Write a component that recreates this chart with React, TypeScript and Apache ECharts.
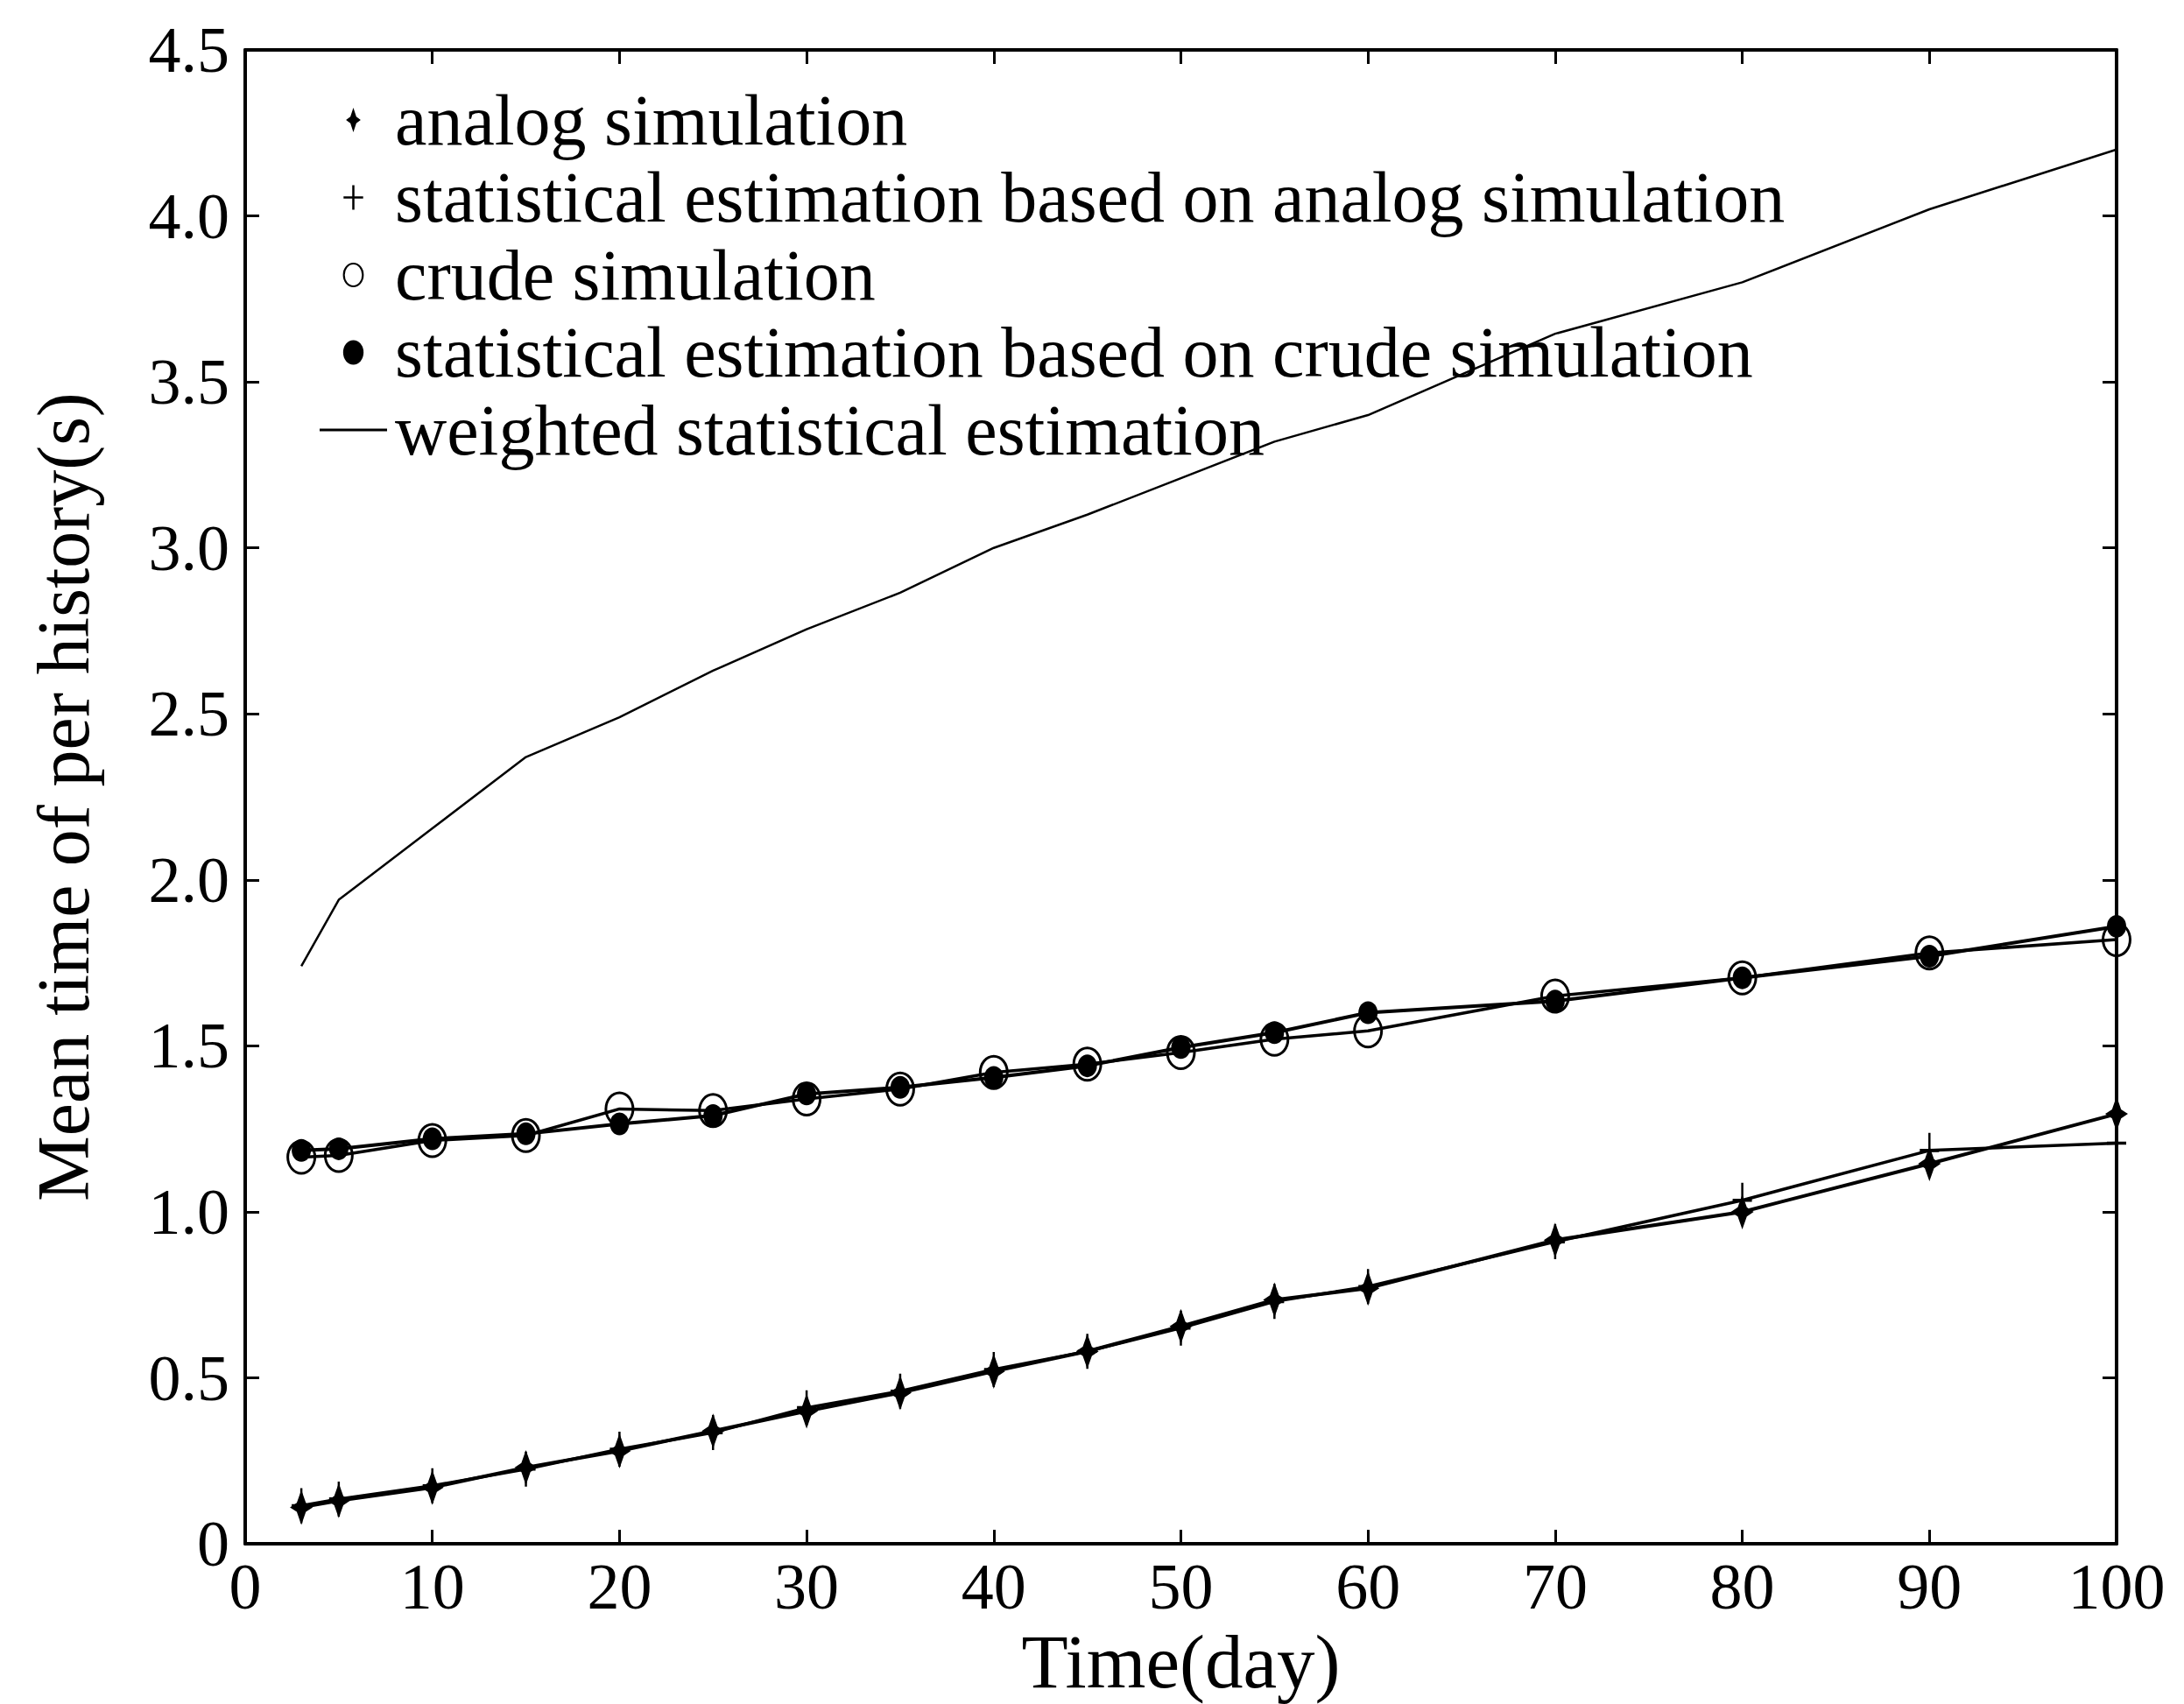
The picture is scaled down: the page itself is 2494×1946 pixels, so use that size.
import React, { useEffect, useRef } from "react";
import * as echarts from "echarts";

const days = [3, 5, 10, 15, 20, 25, 30, 35, 40, 45, 50, 55, 60, 70, 80, 90, 100];
const analogSim = [0.11, 0.13, 0.17, 0.23, 0.28, 0.34, 0.40, 0.455, 0.52, 0.58, 0.655, 0.735, 0.77, 0.915, 1.0, 1.145, 1.295];
const statAnalog = [0.115, 0.135, 0.175, 0.225, 0.285, 0.335, 0.41, 0.46, 0.525, 0.58, 0.65, 0.73, 0.775, 0.91, 1.035, 1.185, 1.207];
const crudeSim = [1.165, 1.17, 1.215, 1.23, 1.31, 1.305, 1.34, 1.37, 1.42, 1.445, 1.48, 1.52, 1.545, 1.65, 1.705, 1.78, 1.82];
const statCrude = [1.185, 1.19, 1.22, 1.235, 1.265, 1.29, 1.355, 1.375, 1.405, 1.44, 1.495, 1.54, 1.6, 1.635, 1.705, 1.77, 1.86];
const weighted = [1.74, 1.94, 2.155, 2.37, 2.49, 2.63, 2.755, 2.865, 3.0, 3.1, 3.21, 3.32, 3.4, 3.645, 3.8, 4.02, 4.2];

const seriesNames = [
  "analog simulation",
  "statistical estimation based on analog simulation",
  "crude simulation",
  "statistical estimation based on crude simulation",
  "weighted statistical estimation",
];

const FONT = "'Liberation Serif', 'DejaVu Serif', serif";
const STAR = "path://M0,-10 L2.4,-2.6 L6,0 L2.4,2.6 L0,10 L-2.4,2.6 L-6,0 L-2.4,-2.6 Z";
const PLUS = "path://M-0.9,-10 L0.9,-10 L0.9,-0.9 L8,-0.9 L8,0.9 L0.9,0.9 L0.9,10 L-0.9,10 L-0.9,0.9 L-8,0.9 L-8,-0.9 L-0.9,-0.9 Z";
const RING = "path://M0,-20 A17,20 0 1,1 0,20 A17,20 0 1,1 0,-20 Z M0,-17 A14,17 0 1,0 0,17 A14,17 0 1,0 0,-17 Z";
const DOT = "path://M0,-12 A10,12 0 1,1 0,12 A10,12 0 1,1 0,-12 Z";
const DASH = "path://M0,0 L30,0 L30,1.2 L0,1.2 Z";

export default function App() {
  const ref = useRef<HTMLDivElement>(null);
  useEffect(() => {
    document.body.style.margin = "0";
    if (!ref.current) return;
    const chart = echarts.init(ref.current, null, { renderer: "svg" });
    const pairs = (ys: number[]) => days.map((d, i) => [d, ys[i]]);
    const axisCommon = {
      axisLine: { show: true, onZero: false, lineStyle: { color: "#000", width: 4 } },
      axisTick: { show: true, inside: true, length: 16, lineStyle: { color: "#000", width: 3 } },
      splitLine: { show: false },
    };
    const option: any = {
      animation: false,
      backgroundColor: "#fff",
      grid: { left: 280, right: 77, top: 57, bottom: 168, containLabel: false },
      legend: {
        orient: "vertical",
        left: 360,
        top: 91,
        itemWidth: 77,
        itemHeight: 28,
        itemGap: 6.5,
        symbolKeepAspect: true,
        textStyle: { fontFamily: FONT, fontSize: 82, color: "#000", lineHeight: 82, padding: [0, 0, 0, 4] },
        data: [
          { name: seriesNames[0], icon: STAR, itemStyle: { color: "#000" } },
          { name: seriesNames[1], icon: PLUS, itemStyle: { color: "#000" } },
          { name: seriesNames[2], icon: RING, itemStyle: { color: "#000" } },
          { name: seriesNames[3], icon: DOT, itemStyle: { color: "#000" } },
          { name: seriesNames[4], icon: DASH, itemStyle: { color: "#000" } },
        ],
      },
      xAxis: [
        {
          type: "value",
          position: "bottom",
          min: 0,
          max: 100,
          interval: 10,
          name: "Time(day)",
          nameLocation: "middle",
          nameGap: 78,
          nameTextStyle: { fontFamily: FONT, fontSize: 87, color: "#000" },
          axisLabel: { fontFamily: FONT, fontSize: 74, color: "#000", margin: 12 },
          ...axisCommon,
        },
        {
          type: "value",
          position: "top",
          min: 0,
          max: 100,
          interval: 10,
          axisLabel: { show: false },
          ...axisCommon,
        },
      ],
      yAxis: [
        {
          type: "value",
          position: "left",
          min: 0,
          max: 4.5,
          interval: 0.5,
          name: "Mean time of per history(s)",
          nameLocation: "middle",
          nameGap: 166,
          nameRotate: 90,
          nameTextStyle: { fontFamily: FONT, fontSize: 84, color: "#000" },
          axisLabel: {
            fontFamily: FONT,
            fontSize: 74,
            color: "#000",
            margin: 18,
            formatter: (v: number) => (v === 0 ? "0" : v.toFixed(1)),
          },
          ...axisCommon,
        },
        {
          type: "value",
          position: "right",
          min: 0,
          max: 4.5,
          interval: 0.5,
          axisLabel: { show: false },
          ...axisCommon,
        },
      ],
      series: [
        {
          name: seriesNames[0],
          type: "line",
          data: pairs(analogSim),
          symbol: STAR,
          symbolSize: [26, 40],
          lineStyle: { color: "#000", width: 4 },
          itemStyle: { color: "#000" },
          z: 3,
        },
        {
          name: seriesNames[1],
          type: "line",
          data: pairs(statAnalog),
          symbol: PLUS,
          symbolSize: [22, 40],
          lineStyle: { color: "#000", width: 3.5 },
          itemStyle: { color: "#000" },
          z: 3,
        },
        {
          name: seriesNames[2],
          type: "line",
          data: pairs(crudeSim),
          symbol: RING,
          symbolSize: [34, 40],
          lineStyle: { color: "#000", width: 3.5 },
          itemStyle: { color: "#000" },
          z: 2,
        },
        {
          name: seriesNames[3],
          type: "line",
          data: pairs(statCrude),
          symbol: DOT,
          symbolSize: [22, 26],
          lineStyle: { color: "#000", width: 4 },
          itemStyle: { color: "#000" },
          z: 4,
        },
        {
          name: seriesNames[4],
          type: "line",
          data: pairs(weighted),
          symbol: "none",
          showSymbol: false,
          lineStyle: { color: "#000", width: 2.5 },
          itemStyle: { color: "#000" },
          z: 2,
        },
      ],
    };
    chart.setOption(option);
    return () => chart.dispose();
  }, []);
  return <div ref={ref} style={{ width: 2494, height: 1946 }} />;
}
